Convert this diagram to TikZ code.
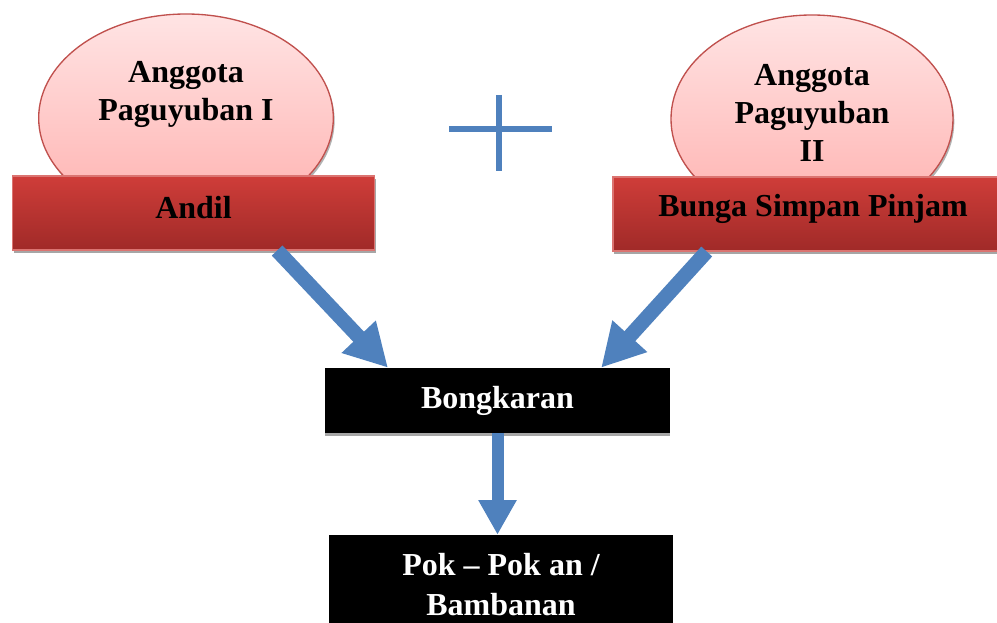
\documentclass[tikz,border=0pt]{standalone}
\usepackage{fontspec}
\setmainfont{Liberation Serif}
\usetikzlibrary{shapes.geometric,arrows.meta,shadows,calc}
\definecolor{ellfillA}{HTML}{FFE4E4}
\definecolor{ellfillB}{HTML}{FFB0AE}
\definecolor{ellborder}{HTML}{C0504D}
\definecolor{rectA}{HTML}{CF3D39}
\definecolor{rectB}{HTML}{A02A28}
\definecolor{rectborder}{HTML}{DB7471}
\definecolor{flowblue}{HTML}{4F81BD}
\begin{document}
\begin{tikzpicture}[x=0.75pt,y=-0.75pt,
  txt/.style={font=\fontsize{24}{28.5}\selectfont\bfseries, align=center, inner sep=0pt},
  oval/.style={ellipse, draw=ellborder, line width=1pt, top color=ellfillA, bottom color=ellfillB, inner sep=0pt,
    drop shadow={shadow xshift=1pt, shadow yshift=-2pt, fill=black!30, opacity=1}},
  bar/.style={rectangle, draw=rectborder, line width=0.8pt, top color=rectA, bottom color=rectB, inner sep=0pt,
    font=\fontsize{24}{28.5}\selectfont\bfseries,
    drop shadow={shadow xshift=1pt, shadow yshift=-2.5pt, fill=black!35, opacity=1}},
  blackbox/.style={rectangle, fill=black, inner sep=0pt, text=white, align=center,
    font=\fontsize{24}{30}\selectfont\bfseries,
    drop shadow={shadow xshift=0pt, shadow yshift=-2.5pt, fill=black!35, opacity=1}},
  flow/.style={draw=flowblue, fill=flowblue, line width=11pt, -{Triangle[length=32pt,width=33pt]}},
  flowdown/.style={draw=flowblue, fill=flowblue, line width=9pt, -{Triangle[length=26pt,width=27pt]}},
  plusline/.style={draw=flowblue, line width=4.5pt}
]
\clip (0,0) rectangle (997,623);
\fill[white] (0,0) rectangle (997,623);

% ellipses
\node[oval, minimum width=221pt, minimum height=156pt] (e1) at (186,118) {};
\node[oval, minimum width=211.5pt, minimum height=156pt] (e2) at (812,119) {};
\node[txt] (t1) at (186,94) {Anggota\\Paguyuban I};
\node[txt] (t2) at (812,113) {Anggota\\Paguyuban\\II};

% red bars
\node[bar, minimum width=272pt, minimum height=55.5pt] (andil) at (193.5,213) {};
\node[txt] (andiltxt) at (193.5,208) {Andil};
\node[bar, minimum width=300pt, minimum height=55.5pt] (bunga) at (813,214) {};
\node[txt] (bungatxt) at (813,209) {Bunga Simpan Pinjam};

% plus sign
\coordinate (pl) at (449,129);
\coordinate (pr) at (552,129);
\coordinate (pt) at (499,95);
\coordinate (pb) at (499,171);
\draw[plusline] (pl) -- (pr);
\draw[plusline] (pt) -- (pb);

% black boxes
\node[blackbox, minimum width=258.75pt, minimum height=48.75pt] (bong) at (497.5,400.5) {Bongkaran};
\node[blackbox, minimum width=258pt, minimum height=75pt] (pok) at (501,585) {};
\node[txt, text=white, font=\fontsize{24}{30}\selectfont\bfseries] (poktxt) at (501,585) {Pok -- Pok an /\\Bambanan};

% arrows
\draw[flow] ($(andil.south west)!0.73!(andil.south east)$) -- ($(bong.north west)!0.183!(bong.north east)$);
\draw[flow] ($(bunga.south west)!0.235!(bunga.south east)$) -- ($(bong.north west)!0.80!(bong.north east)$);
\draw[flowdown] (bong.south) -- (bong.south |- pok.north);
\end{tikzpicture}
\end{document}
